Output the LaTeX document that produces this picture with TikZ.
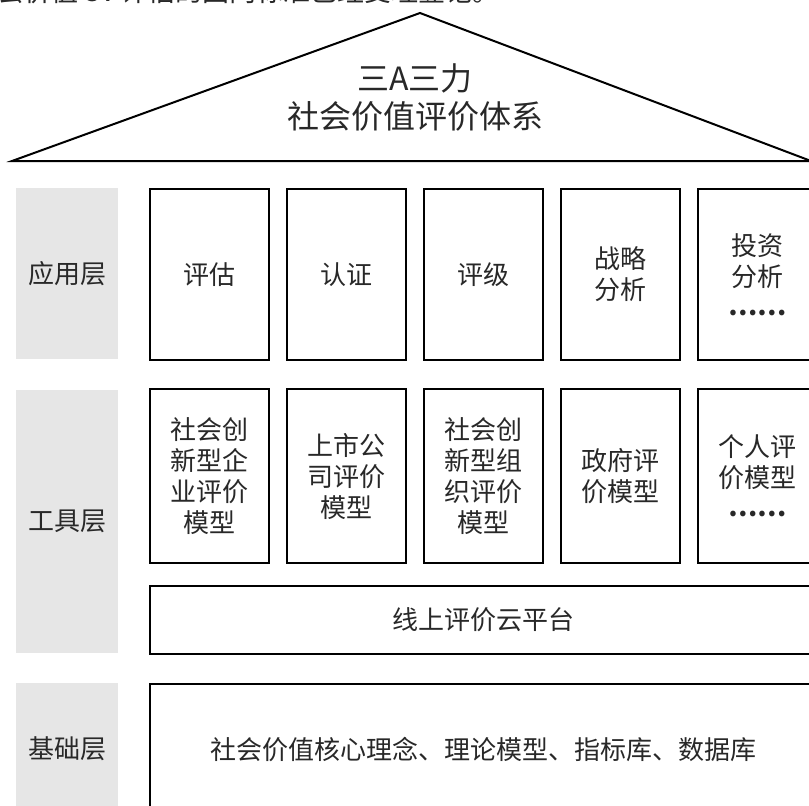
\documentclass[tikz,border=0pt]{standalone}
\usepackage{fontspec}
\newfontfamily\cjk{Noto Sans CJK SC}
\definecolor{labgray}{RGB}{230,230,230}
\definecolor{txt}{RGB}{40,40,40}
\tikzset{
  lab/.style={fill=labgray, draw=none, anchor=north west, minimum width=102pt,
    inner sep=0pt, text=txt, font=\cjk\fontsize{26}{31}\selectfont},
  cell/.style={draw=black, line width=2.2pt, fill=white, anchor=north west,
    minimum width=119pt, inner sep=0pt, align=center, text=txt,
    font=\cjk\fontsize{26}{31}\selectfont},
  roof/.style={draw=black, line width=2pt, line join=miter},
}
\begin{document}
\begin{tikzpicture}[x=1pt,y=-1pt]
\useasboundingbox (0,0) rectangle (809,806);
\clip (0,0) rectangle (809,806);
% cut-off line of text at the very top
\node[anchor=base west, inner sep=0pt, text=txt, font=\cjk\fontsize{27}{30}\selectfont] (cut) at (-3,1) {会价值 SV 评估的国内标准已经受理登记。};
% roof
\draw[roof] (12,161) -- (420,13) -- (811,161) -- cycle;
\node[align=center, text=txt, font=\cjk\fontsize{32}{38}\selectfont] (title) at (415,97) {三A三力\\社会价值评价体系};
% application layer
\node[lab, minimum height=171pt] (labA) at (16,188) {应用层};
\node[cell, minimum height=171pt] (a1) at (149,188) {评估};
\node[cell, minimum height=171pt] (a2) at (286,188) {认证};
\node[cell, minimum height=171pt] (a3) at (423,188) {评级};
\node[cell, minimum height=171pt] (a4) at (560,188) {战略\\分析};
\node[cell, minimum height=171pt] (a5) at (697,188) {投资\\分析\\[-2pt]\textbf{……}};
% tool layer
\node[lab, minimum height=263pt] (labT) at (16,390) {工具层};
\node[cell, minimum height=174pt] (t1) at (149,388) {社会创\\新型企\\业评价\\模型};
\node[cell, minimum height=174pt] (t2) at (286,388) {上市公\\司评价\\模型};
\node[cell, minimum height=174pt] (t3) at (423,388) {社会创\\新型组\\织评价\\模型};
\node[cell, minimum height=174pt] (t4) at (560,388) {政府评\\价模型};
\node[cell, minimum height=174pt] (t5) at (697,388) {个人评\\价模型\\[-2pt]\textbf{……}};
\node[cell, minimum height=68pt, minimum width=667pt] (plat) at (149,585) {线上评价云平台};
% base layer
\node[lab, minimum height=131pt] (labB) at (16,683) {基础层};
\node[cell, minimum height=131pt, minimum width=667pt] (base) at (149,683) {社会价值核心理念、理论模型、指标库、数据库};
\end{tikzpicture}
\end{document}
